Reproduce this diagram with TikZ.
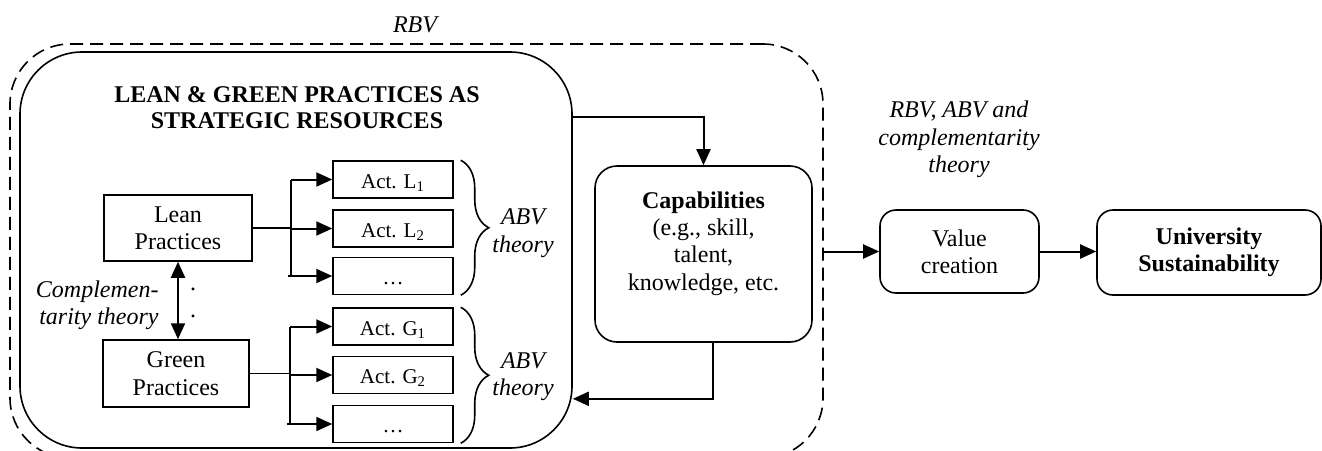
\documentclass[tikz,border=0pt]{standalone}
\usepackage{fontspec}
\setmainfont{Liberation Serif}
\usetikzlibrary{calc,arrows.meta,decorations.pathreplacing}

\begin{document}
\begin{tikzpicture}[x=0.5pt,y=-0.5pt,
        every node/.style={font=\fontsize{12}{13.7}\selectfont, align=center, inner sep=0pt},
        box/.style={draw, line width=0.75pt},
        actbox/.style={draw, line width=0.75pt, minimum width=60pt, minimum height=18.5pt,
            text height=9.5pt, text depth=1pt, font=\fontsize{10.5}{12}\selectfont},
        rbox/.style={draw, line width=0.8pt, rounded corners=8pt},
        arr/.style={line width=1pt, -{Triangle[length=8pt,width=7pt]}},
        dblarr/.style={line width=1.1pt, {Triangle[length=8pt,width=7pt]}-{Triangle[length=8pt,width=7pt]}},
        brc/.style={decorate, decoration={brace, amplitude=14pt, aspect=0.5}, line width=0.8pt}]
        \useasboundingbox (0,0) rectangle (1322,450);
        \node[draw, dash pattern=on 6.5pt off 3.5pt, line width=0.8pt, rounded corners=30pt,
            minimum width=406.5pt, minimum height=207pt] (rbv) at (416.5,251) {};
        \node (rbvtxt) at (415,24.5) {\itshape RBV};
        \node[draw, line width=0.8pt, rounded corners=31pt,
            minimum width=276pt, minimum height=198pt] (res) at (296,250) {};
        \node[font=\fontsize{12}{13}\selectfont\bfseries] (title) at (297,108)
            {LEAN \& GREEN PRACTICES AS\\STRATEGIC RESOURCES};
        \node[box, minimum width=74pt, minimum height=33pt] (lean) at (178,228) {Lean\\Practices};
        \node[box, minimum width=73pt, minimum height=33.5pt] (green) at (176,373.5) {Green\\Practices};
        \node[actbox] (l1) at (393,179.5) {Act. L\textsubscript{1}};
        \node[actbox] (l2) at (393,228.5) {Act. L\textsubscript{2}};
        \node[actbox] (l3) at (393,276) {\ldots};
        \node[actbox] (g1) at (393,326.5) {Act. G\textsubscript{1}};
        \node[actbox] (g2) at (393,375) {Act. G\textsubscript{2}};
        \node[actbox] (g3) at (393,424) {\ldots};
        \node (abvl) at (523,233) {\itshape ABV\\\itshape theory};
        \node (abvg) at (523,376.5) {\itshape ABV\\\itshape theory};
        \node[anchor=east, align=right] (compl) at (159,305.5) {\itshape Complemen-\\\itshape tarity theory};
        \node (dots) at (193,303) {.\\.};
        \node[rbox, rounded corners=11pt, minimum width=108.5pt, minimum height=88pt] (cap) at (703.5,254) {};
        \node (captxt) at (703.5,243.5) {\textbf{Capabilities}\\(e.g., skill,\\talent,\\knowledge, etc.};
        \node (theories) at (959,139.5) {\itshape RBV, ABV and\\\itshape complementarity\\\itshape theory};
        \node[rbox, minimum width=79.5pt, minimum height=41.5pt] (val) at (959.5,251.5) {Value\\creation};
        \node[rbox, minimum width=112pt, minimum height=42.5pt] (sus) at (1209,252.5) {\textbf{University}\\\textbf{Sustainability}};
        \coordinate (bl) at (291,0);
        \coordinate (bg) at (290,0);
        \draw[line width=0.6pt] (lean.east) -- (bl |- lean.east);
        \draw[line width=1pt] (bl |- l1.west) -- (bl |- l3.west);
        \draw[arr] (bl |- l1.west) -- (l1.west);
        \draw[arr] (bl |- l2.west) -- (l2.west);
        \draw[arr] ([xshift=-1.5pt]bl |- l3.west) -- (l3.west);
        \draw[line width=0.6pt] (green.east) -- (bg |- green.east);
        \draw[line width=1pt] (bg |- g1.west) -- (bg |- g3.west);
        \draw[arr] (bg |- g1.west) -- (g1.west);
        \draw[arr] (bg |- g2.west) -- (g2.west);
        \draw[arr] ([xshift=-1.5pt]bg |- g3.west) -- (g3.west);
        \draw[brc] ([xshift=3.5pt]l1.north east) -- ([xshift=3.5pt]l3.south east);
        \draw[brc] ([xshift=3.5pt]g1.north east) -- ([xshift=3.5pt]g3.south east);
        \draw[dblarr] (lean.south) -- (lean.south |- green.north);
        \draw[arr] ($(res.north east)+(0,66)$) -| (cap.north);
        \draw[arr] ([xshift=4.5pt]cap.south) |- ($(res.south east)+(0,-50)$);
        \draw[arr] (rbv.east |- val.west) -- (val.west);
        \draw[arr] (val.east) -- (val.east -| sus.west);
\end{tikzpicture}
\end{document}
